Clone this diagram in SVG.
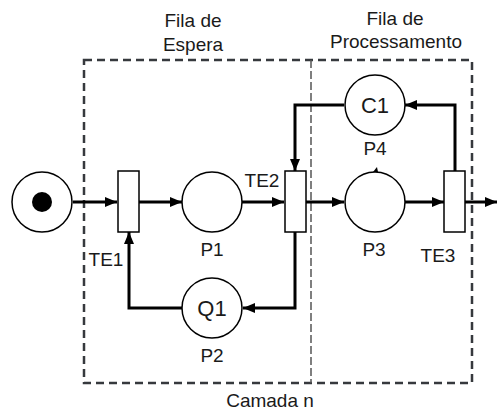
<svg xmlns="http://www.w3.org/2000/svg" width="497" height="416" viewBox="0 0 497 416">
<defs>
<marker id="ah" viewBox="0 0 12 10" refX="12" refY="5" markerWidth="12" markerHeight="10" markerUnits="userSpaceOnUse" orient="auto"><path d="M0,0 L12,5 L0,10 Z" fill="#000"/></marker>
<style>
.t{font-family:"Liberation Sans",Arial,sans-serif;font-size:19px;fill:#1a1a1a;text-anchor:middle}
.big{font-size:22px}
.pl{fill:#fff;stroke:#000;stroke-width:1.5}
.tr{fill:#fff;stroke:#000;stroke-width:1.5}
.e{fill:none;stroke:#000;stroke-width:3;marker-end:url(#ah)}
.box{fill:none;stroke:#36393d;stroke-width:2.5;stroke-dasharray:8 5}
</style>
</defs>
<g id="regions">
<rect class="box" x="84" y="60" width="388" height="323"/>
<line x1="311" y1="60" x2="311" y2="383" stroke="#555" stroke-width="1.5" stroke-dasharray="8 3"/>
</g>
<g id="connectors">
<path class="e" d="M73,202 L117,202"/>
<path class="e" d="M139,202 L182,202"/>
<path class="e" d="M242,202 L284,202"/>
<path class="e" d="M306,202 L344,202"/>
<path class="e" d="M405,202 L444,202"/>
<path class="e" d="M465,202 L497,202"/>
<path class="e" d="M455,171 L455,105 L405,105"/>
<path class="e" d="M344,105 L295,105 L295,171"/>
<path class="e" d="M295,232 L295,308 L243,308"/>
<path class="e" d="M182,308 L129,308 L129,232"/>
</g>
<g id="start"><circle class="pl" cx="42" cy="202" r="30"/><circle cx="42" cy="202" r="10" fill="#000"/></g>
<g id="TE1"><rect class="tr" x="118" y="171" width="21" height="61"/><text class="t" x="106" y="266">TE1</text></g>
<g id="P1"><circle class="pl" cx="212" cy="202" r="30"/><text class="t" x="212" y="256">P1</text></g>
<g id="TE2"><rect class="tr" x="285" y="171" width="21" height="61"/><text class="t" x="262" y="187">TE2</text></g>
<g id="P3"><circle class="pl" cx="375" cy="202" r="30"/><path d="M373,172 L377,167 L378,172 Z" fill="#000"/><text class="t" x="374" y="256">P3</text></g>
<g id="TE3"><rect class="tr" x="444" y="171" width="21" height="61"/><text class="t" x="438" y="262">TE3</text></g>
<g id="C1"><circle class="pl" cx="375" cy="105" r="30"/><text class="t big" x="375" y="113">C1</text><text class="t" x="375" y="155">P4</text></g>
<g id="Q1"><circle class="pl" cx="212" cy="308" r="30"/><text class="t big" x="212" y="316">Q1</text><text class="t" x="212" y="362">P2</text></g>
<g id="labels">
<text class="t" x="193" y="27">Fila de</text>
<text class="t" x="193" y="51">Espera</text>
<text class="t" x="395" y="25">Fila de</text>
<text class="t" x="396" y="48">Processamento</text>
<text class="t" x="270" y="407">Camada n</text>
</g>
</svg>
